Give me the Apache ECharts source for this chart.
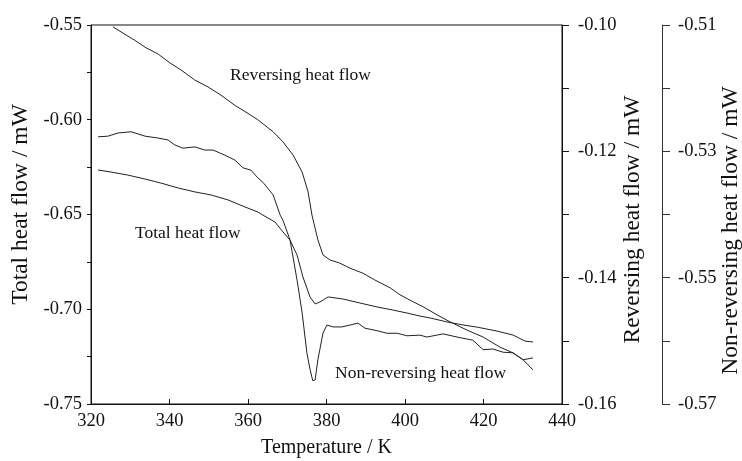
<!DOCTYPE html>
<html>
<head>
<meta charset="utf-8">
<script src="https://cdn.jsdelivr.net/npm/echarts@6/dist/echarts.min.js"></script>
<style>
  html, body { margin: 0; padding: 0; background: #fff; }
  #chart { width: 742px; height: 461px; }
</style>
</head>
<body>
<div id="chart"></div>
<script>
// ---- Data ----
// Temperature (K) / Total heat flow (mW) – left axis
const totalHeatFlow = [
  [321.8, -0.6265], [325.1, -0.6276], [329.4, -0.6292], [333.8, -0.6313], [337.8, -0.6334],
  [342.2, -0.6360], [346.5, -0.6381], [350.6, -0.6397], [354.9, -0.6423], [359.2, -0.6460],
  [362.5, -0.6487], [363.8, -0.6503], [366.9, -0.6540], [368.9, -0.6592], [370.7, -0.6635],
  [372.5, -0.6714], [374.0, -0.6830], [375.8, -0.6935], [377.1, -0.6972], [378.3, -0.6962],
  [380.4, -0.6935], [384.2, -0.6946], [388.5, -0.6967], [392.9, -0.6988], [396.9, -0.7004],
  [400.5, -0.7020], [403.8, -0.7036], [406.4, -0.7046], [410.7, -0.7067], [414.8, -0.7083],
  [418.3, -0.7094], [423.4, -0.7115], [427.5, -0.7136], [430.6, -0.7168], [432.6, -0.7173]
];
// Temperature (K) / Reversing heat flow (mW) – first right axis
const reversingHeatFlow = [
  [325.6, -0.1003], [328.2, -0.1013], [331.1, -0.1024], [334.0, -0.1036], [337.1, -0.1046],
  [340.1, -0.1060], [342.9, -0.1071], [346.4, -0.1087], [349.8, -0.1098], [353.1, -0.1111],
  [356.6, -0.1127], [359.5, -0.1138], [362.5, -0.1150], [366.4, -0.1169], [368.9, -0.1185],
  [371.5, -0.1206], [373.8, -0.1233], [375.3, -0.1264], [376.3, -0.1301], [377.8, -0.1340],
  [379.1, -0.1364], [380.9, -0.1372], [383.4, -0.1377], [386.0, -0.1385], [389.3, -0.1393],
  [392.4, -0.1404], [396.2, -0.1416], [398.7, -0.1427], [402.0, -0.1438], [404.6, -0.1446],
  [408.2, -0.1459], [411.5, -0.1470], [415.8, -0.1483], [419.9, -0.1494], [424.2, -0.1510],
  [427.5, -0.1519], [430.1, -0.1530], [432.6, -0.1546]
];
// Temperature (K) / Non-reversing heat flow (mW) – second right axis
const nonReversingHeatFlow = [
  [321.8, -0.5277], [324.3, -0.5276], [326.9, -0.5271], [330.2, -0.5269], [333.8, -0.5276],
  [337.1, -0.5279], [339.6, -0.5282], [341.4, -0.5290], [343.4, -0.5295], [346.5, -0.5293],
  [349.0, -0.5298], [351.1, -0.5298], [354.1, -0.5306], [356.7, -0.5314], [358.7, -0.5326],
  [360.8, -0.5330], [362.5, -0.5342], [363.8, -0.5349], [366.4, -0.5369], [368.2, -0.5401],
  [368.9, -0.5409], [370.7, -0.5440], [372.5, -0.5504], [373.8, -0.5556], [375.0, -0.5619],
  [375.8, -0.5645], [376.5, -0.5663], [377.1, -0.5662], [377.8, -0.5630], [379.1, -0.5588],
  [380.1, -0.5575], [381.7, -0.5578], [383.9, -0.5578], [386.0, -0.5575], [388.0, -0.5572],
  [389.8, -0.5580], [392.9, -0.5584], [395.4, -0.5588], [398.0, -0.5588], [400.5, -0.5592],
  [403.8, -0.5591], [405.6, -0.5594], [409.7, -0.5589], [414.0, -0.5595], [417.3, -0.5599],
  [419.9, -0.5614], [422.4, -0.5613], [425.0, -0.5618], [427.5, -0.5619], [430.1, -0.5630],
  [432.6, -0.5627]
];
const seriesNames = ['Total heat flow', 'Reversing heat flow', 'Non-reversing heat flow'];
const axisNames = ['Temperature / K', 'Total heat flow / mW', 'Reversing heat flow / mW', 'Non-reversing heat flow / mW'];

// ---- Chart ----
const FONT = 'Liberation Serif';
const INK = '#111';
const TITLE_SIZE = 23.5;
const chart = echarts.init(document.getElementById('chart'), null, { renderer: 'canvas' });

function yAxisBase(extra) {
  return Object.assign({
    type: 'value',
    nameLocation: 'middle',
    nameRotate: 90,
    nameMoveOverlap: false,
    splitLine: { show: false },
    axisLine: { show: true, onZero: false, lineStyle: { color: INK, width: 1 } },
    axisTick: { show: true, inside: false, lineStyle: { color: INK, width: 1 } },
    nameTextStyle: { fontFamily: FONT, fontSize: TITLE_SIZE, color: INK },
    axisLabel: { fontFamily: FONT, fontSize: 18.5, color: INK, showMinLabel: true, showMaxLabel: true, hideOverlap: false }
  }, extra);
}

const option = {
  animation: false,
  backgroundColor: '#fff',
  grid: {
    left: 91, right: 180, top: 25, bottom: 57,
    show: true, borderColor: INK, borderWidth: 1, backgroundColor: 'transparent',
    containLabel: false, outerBoundsMode: 'none'
  },
  xAxis: {
    type: 'value',
    min: 320, max: 440, interval: 20,
    name: axisNames[0],
    nameLocation: 'middle',
    nameGap: 34,
    nameMoveOverlap: false,
    nameTextStyle: { fontFamily: FONT, fontSize: 20, color: INK },
    splitLine: { show: false },
    axisLine: { show: true, onZero: false, lineStyle: { color: INK, width: 1 } },
    axisTick: { show: true, inside: true, length: 5, lineStyle: { color: INK } },
    axisLabel: { fontFamily: FONT, fontSize: 18.5, color: INK, margin: 8, showMinLabel: true, showMaxLabel: true }
  },
  yAxis: [
    yAxisBase({
      name: axisNames[1], position: 'left',
      min: -0.75, max: -0.55, interval: 0.025,
      nameGap: 58,
      nameTextStyle: { fontFamily: FONT, fontSize: TITLE_SIZE, color: INK, padding: [0, 0, 0, 20] },
      axisTick: { show: true, inside: false, length: 4, lineStyle: { color: INK } },
      axisLabel: {
        fontFamily: FONT, fontSize: 18.5, color: INK, margin: 9, showMinLabel: true, showMaxLabel: true,
        formatter: v => (Math.round(v * 1000) % 50 === 0 ? v.toFixed(2) : '')
      }
    }),
    yAxisBase({
      name: axisNames[2], position: 'right', offset: 0,
      min: -0.16, max: -0.10, interval: 0.01,
      nameGap: 59,
      nameTextStyle: { fontFamily: FONT, fontSize: TITLE_SIZE, color: INK, padding: [0, 10, 0, 0] },
      axisTick: { show: true, inside: false, length: 7, lineStyle: { color: INK } },
      axisLabel: {
        fontFamily: FONT, fontSize: 18.5, color: INK, margin: 16, showMinLabel: true, showMaxLabel: true,
        formatter: v => (Math.round(v * 100) % 2 === 0 ? v.toFixed(2) : '')
      }
    }),
    yAxisBase({
      name: axisNames[3], position: 'right', offset: 100,
      min: -0.57, max: -0.51, interval: 0.01,
      nameGap: 57,
      nameTextStyle: { fontFamily: FONT, fontSize: TITLE_SIZE, color: INK, padding: [0, 32, 0, 0] },
      axisLine: { show: true, onZero: false, lineStyle: { color: '#333', width: 1 } },
      axisTick: { show: true, inside: false, length: 8, lineStyle: { color: '#333' } },
      axisLabel: {
        fontFamily: FONT, fontSize: 18.5, color: INK, margin: 16, showMinLabel: true, showMaxLabel: true,
        formatter: v => (Math.round(v * 100) % 2 !== 0 ? v.toFixed(2) : '')
      }
    })
  ],
  series: [
    {
      name: seriesNames[0], type: 'line', xAxisIndex: 0, yAxisIndex: 0,
      data: totalHeatFlow, showSymbol: false, symbol: 'none', clip: true,
      lineStyle: { color: '#222', width: 1 }, itemStyle: { color: '#222' }
    },
    {
      name: seriesNames[1], type: 'line', xAxisIndex: 0, yAxisIndex: 1,
      data: reversingHeatFlow, showSymbol: false, symbol: 'none', clip: true,
      lineStyle: { color: '#222', width: 1 }, itemStyle: { color: '#222' }
    },
    {
      name: seriesNames[2], type: 'line', xAxisIndex: 0, yAxisIndex: 2,
      data: nonReversingHeatFlow, showSymbol: false, symbol: 'none', clip: true,
      lineStyle: { color: '#222', width: 1 }, itemStyle: { color: '#222' }
    }
  ],
  graphic: [
    { type: 'text', left: 230, top: 66, style: { text: seriesNames[1], font: '17.5px "Liberation Serif"', fill: INK } },
    { type: 'text', left: 135, top: 224, style: { text: seriesNames[0], font: '17.5px "Liberation Serif"', fill: INK } },
    { type: 'text', left: 335, top: 364, style: { text: seriesNames[2], font: '17.5px "Liberation Serif"', fill: INK } }
  ]
};
chart.setOption(option);
</script>
</body>
</html>
